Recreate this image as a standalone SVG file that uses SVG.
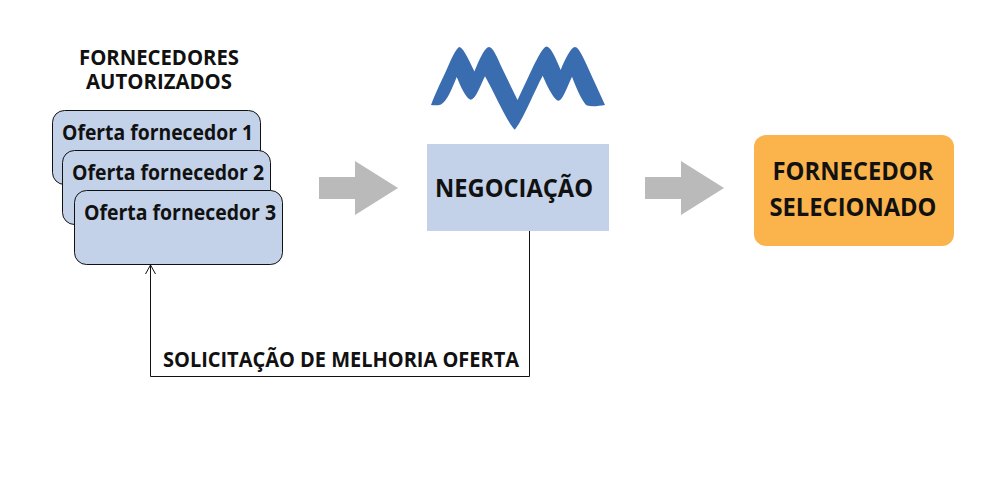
<svg xmlns="http://www.w3.org/2000/svg" width="1000" height="500" viewBox="0 0 1000 500">
<style>
text{font-family:"Open Sans","Noto Sans","Liberation Sans",sans-serif;font-weight:700;fill:#111;text-anchor:middle}
.card{fill:#c3d2e9;stroke:#111;stroke-width:1}
.t{font-size:21px}
.h{font-size:20.500px}
.b{font-size:25px}
.arrow{fill:#bababa}
.line{fill:none;stroke:#111;stroke-width:1}
</style>
<rect width="1000" height="500" fill="#fff"/>
<g id="header"><text class="h" x="159" y="65" textLength="160" lengthAdjust="spacingAndGlyphs">FORNECEDORES</text><text class="h" x="159" y="89" textLength="146" lengthAdjust="spacingAndGlyphs">AUTORIZADOS</text></g>
<g id="oferta1"><rect class="card" x="52.500" y="110.500" width="208" height="74" rx="12"/><text class="t" x="157.500" y="140" textLength="191" lengthAdjust="spacingAndGlyphs">Oferta fornecedor 1</text></g>
<g id="oferta2"><rect class="card" x="62.500" y="150.500" width="208" height="74" rx="12"/><text class="t" x="168" y="180" textLength="192" lengthAdjust="spacingAndGlyphs">Oferta fornecedor 2</text></g>
<g id="oferta3"><rect class="card" x="74.500" y="190.500" width="208" height="74" rx="12"/><text class="t" x="180" y="220" textLength="192" lengthAdjust="spacingAndGlyphs">Oferta fornecedor 3</text></g>
<g id="logo"><path fill="#3a6db0" d="M431 105 C436 92 440 84 446 71 C451 60 455 50 459 47 C463 47 469 60 474.500 71.500 C479 60 485 47 489 47 C493 47 497 57 502 68 L517.500 100 L533 67 C538 57 543 47 546.700 46.500 C551 47 556 59 560.700 70 C565 59 571 47 575 47 C579 47 584 59 589 70 C595 83 600 94 605 105 C599 106 592 107 587 105.500 C583 103 577 90 572 76.700 C567 87 563 100 558.500 100.700 C554 100 547 86 542.700 75.700 C535 90 522 122 514.700 129.700 C507 122 495 94 485 76.300 C480 86 476 99 471 99.700 C466 99 461 87 456.700 77 C452 89 447 101 441 104.500 C438 105.500 434 105.500 431 105 Z"/></g>
<g id="negociacao"><rect x="427" y="144" width="182" height="87" fill="#c3d2e9"/><text class="b" x="514" y="197" textLength="158" lengthAdjust="spacingAndGlyphs">NEGOCIAÇÃO</text></g>
<g id="selecionado"><rect x="754" y="135" width="200" height="111" rx="12" fill="#fbb34c"/><text class="b" x="853" y="180" textLength="161" lengthAdjust="spacingAndGlyphs">FORNECEDOR</text><text class="b" x="853" y="216" textLength="167" lengthAdjust="spacingAndGlyphs">SELECIONADO</text></g>
<g id="connectors">
<polygon class="arrow" points="319,177 355,177 355,161 398,188 355,215 355,199 319,199"/>
<polygon class="arrow" points="645,177 681,177 681,161 724,188 681,215 681,199 645,199"/>
<path class="line" d="M529.500 231V376.500H150.500V265"/>
<path class="line" d="M145.500 274L150.500 265L155.500 274"/>
</g>
<text id="feedback-label" class="h" x="341" y="367" textLength="356" lengthAdjust="spacingAndGlyphs">SOLICITAÇÃO DE MELHORIA OFERTA</text>
</svg>
